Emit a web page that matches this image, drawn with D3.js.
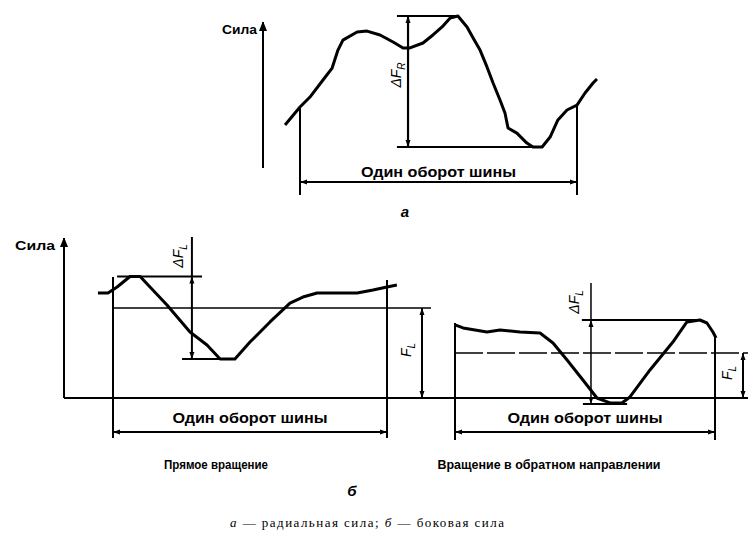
<!DOCTYPE html>
<html>
<head>
<meta charset="utf-8">
<script src="https://cdn.jsdelivr.net/npm/d3@7"></script>
<style>
	body { margin: 0; background: #fff; }
	text { fill: #000; }
</style>
</head>
<body>
<div id="chart"></div>
<script>
// x = share of one tire revolution (0..1 between the extension lines), y = force, arbitrary units

// а - radial force
var radialRev = [-0.054, 0, 0.036, 0.083, 0.116, 0.137, 0.155, 0.206, 0.242, 0.289, 0.336, 0.372, 0.397, 0.444, 0.48, 0.513, 0.542, 0.57, 0.603, 0.625, 0.65, 0.675, 0.697, 0.722, 0.74, 0.751, 0.783, 0.819, 0.841, 0.874, 0.903, 0.931, 0.964, 1, 1.029, 1.058, 1.072];
var radialForce = [33.4, 44.4, 50.5, 60.9, 68.2, 79.2, 85.3, 90.2, 90.8, 88.4, 84.1, 80.5, 80.5, 83.5, 88.4, 93.3, 98.8, 100, 93.3, 86.6, 79.2, 68.9, 59.1, 48.7, 40.8, 31.6, 28.5, 22.4, 20, 20, 26.1, 36.5, 42.6, 45.6, 53, 59.1, 61.5];
var radialMax = 100, radialMin = 20;

// б - lateral force, direct rotation
var directRev = [-0.055, -0.018, 0.015, 0.062, 0.099, 0.135, 0.197, 0.281, 0.343, 0.391, 0.445, 0.5, 0.573, 0.646, 0.693, 0.745, 0.818, 0.891, 0.949, 1, 1.036];
var directForce = [70, 70, 74, 81, 81, 74, 62, 44, 35.3, 26, 26, 37.3, 50.7, 63.3, 67.3, 70, 70, 70, 72, 74, 75.3];
var directMax = 81, directMin = 26, directMean = 60;

// б - lateral force, reverse rotation
var reverseRev = [0, 0.031, 0.123, 0.173, 0.25, 0.327, 0.377, 0.431, 0.492, 0.546, 0.596, 0.642, 0.673, 0.75, 0.838, 0.892, 0.942, 0.969, 0.992, 1.004];
var reverseForce = [48.7, 46.7, 44, 45.3, 44, 43.3, 36.7, 25.3, 12, 0, -3.3, -3.3, 0.7, 18.7, 37.3, 50.7, 52, 50, 44, 40];
var reverseMax = 52, reverseMin = -4, reverseMean = 30;

var axisLabel = 'Сила';
var revLabel = 'Один оборот шины';
var panelNames = ['Прямое вращение', 'Вращение в обратном направлении'];

var width = 748, height = 542;

var svg = d3.select('#chart').append('svg')
	.attr('width', width)
	.attr('height', height);

var defs = svg.append('defs');
defs.append('marker')
	.attr('id', 'dim')
	.attr('markerUnits', 'userSpaceOnUse')
	.attr('markerWidth', 8).attr('markerHeight', 6)
	.attr('refX', 7).attr('refY', 3)
	.attr('orient', 'auto-start-reverse')
	.append('path').attr('d', 'M0,0.5 L7,3 L0,5.5 Z').attr('fill', '#000');
defs.append('marker')
	.attr('id', 'axisArrow')
	.attr('markerUnits', 'userSpaceOnUse')
	.attr('markerWidth', 8).attr('markerHeight', 10)
	.attr('refX', 9).attr('refY', 4)
	.attr('orient', 'auto')
	.append('path').attr('d', 'M0,0 L10,4 L0,8 Z').attr('fill', '#000');

var boldFont = '"Liberation Sans", Arial, sans-serif';

function line(g, x1, y1, x2, y2, w, dash) {
	return g.append('line')
		.attr('x1', x1).attr('y1', y1).attr('x2', x2).attr('y2', y2)
		.attr('stroke', '#000')
		.attr('stroke-width', w)
		.attr('stroke-dasharray', dash || null);
}

function dimension(g, x1, y1, x2, y2, w) {
	return line(g, x1, y1, x2, y2, w)
		.attr('marker-start', 'url(#dim)')
		.attr('marker-end', 'url(#dim)');
}

function rotatedLabel(g, x, y, main, sub) {
	var t = g.append('text')
		.attr('transform', 'translate(' + x + ',' + y + ') rotate(-90)')
		.attr('text-anchor', 'middle')
		.style('font-family', boldFont)
		.style('font-style', 'italic')
		.style('font-size', '14px');
	t.append('tspan').text(main);
	t.append('tspan').attr('dy', 4).style('font-size', '10px').text(sub);
}

function bold(g, x, y, txt, size, len) {
	var t = g.append('text')
		.attr('x', x).attr('y', y)
		.attr('text-anchor', 'middle')
		.style('font-family', boldFont)
		.style('font-weight', 'bold')
		.style('font-size', size + 'px')
		.text(txt);
	if (len) t.attr('textLength', len).attr('lengthAdjust', 'spacingAndGlyphs');
	return t;
}

function curve(g, x, y, rev, force) {
	g.append('path')
		.datum(d3.zip(rev, force))
		.attr('fill', 'none')
		.attr('stroke', '#000')
		.attr('stroke-width', 3)
		.attr('stroke-linejoin', 'round')
		.attr('d', d3.line().x(function(d) { return x(d[0]); }).y(function(d) { return y(d[1]); }));
}

function forceAt(rev, force, r) {
	return force[rev.indexOf(r)];
}

// ---- а ----
var xA = d3.scaleLinear().domain([0, 1]).range([300, 577]);
var yA = d3.scaleLinear().domain([radialMin, radialMax]).range([147, 16]);
var gA = svg.append('g');

line(gA, 263, 168, 263, 22, 2).attr('marker-end', 'url(#axisArrow)');
gA.append('text').attr('x', 257).attr('y', 34).attr('text-anchor', 'end')
	.style('font-family', boldFont).style('font-weight', 'bold').style('font-size', '12px')
	.attr('textLength', 35).attr('lengthAdjust', 'spacingAndGlyphs').text(axisLabel);

line(gA, xA(0.35), yA(radialMax), xA(0.567), yA(radialMax), 2);
line(gA, xA(0.35), yA(radialMin), xA(0.866), yA(radialMin), 2);
dimension(gA, xA(0.39), yA(radialMax), xA(0.39), yA(radialMin), 2.2);
rotatedLabel(gA, 401, 75, 'ΔF', 'R');

line(gA, xA(0), yA(forceAt(radialRev, radialForce, 0)), xA(0), 195, 2);
line(gA, xA(1), yA(forceAt(radialRev, radialForce, 1)), xA(1), 195, 2);
dimension(gA, xA(0), 182, xA(1), 182, 2);
bold(gA, xA(0.5), 177, revLabel, 14, 155);
curve(gA, xA, yA, radialRev, radialForce);

gA.append('text').attr('x', 405).attr('y', 217).attr('text-anchor', 'middle')
	.style('font-family', boldFont).style('font-weight', 'bold').style('font-style', 'italic')
	.style('font-size', '15px').text('а');

// ---- б ----
var yB = d3.scaleLinear().domain([0, 100]).range([398, 248]);
var xL = d3.scaleLinear().domain([0, 1]).range([113, 387]);
var xR = d3.scaleLinear().domain([0, 1]).range([455, 715]);
var gB = svg.append('g');

line(gB, 64, yB(0), 64, 238, 2).attr('marker-end', 'url(#axisArrow)');
line(gB, 64, yB(0), width, yB(0), 2);
gB.append('text').attr('x', 55).attr('y', 250).attr('text-anchor', 'end')
	.style('font-family', boldFont).style('font-weight', 'bold').style('font-size', '12px')
	.attr('textLength', 40).attr('lengthAdjust', 'spacingAndGlyphs').text(axisLabel);

// direct rotation
line(gB, xL(0), 277, xL(0), 438, 2);
line(gB, xL(1), 280, xL(1), 438, 2);
line(gB, xL(0), yB(directMean), 431, yB(directMean), 1.3);
line(gB, xL(0.015), yB(directMax), xL(0.325), yB(directMax), 2);
line(gB, xL(0.252), yB(directMin), xL(0.434), yB(directMin), 2);
line(gB, xL(0.288), 237, xL(0.288), yB(directMax), 2);
dimension(gB, xL(0.288), yB(directMax), xL(0.288), yB(directMin), 2);
rotatedLabel(gB, 183, 256, 'ΔF', 'L');
dimension(gB, 422, yB(directMean), 422, yB(0), 2);
rotatedLabel(gB, 411, 350, 'F', 'L');
dimension(gB, xL(0), 432, xL(1), 432, 2);
bold(gB, xL(0.5), 423, revLabel, 14, 155);
curve(gB, xL, yB, directRev, directForce);

// reverse rotation
line(gB, xR(0), 323, xR(0), 440, 2);
line(gB, xR(1), 335, xR(1), 440, 2);
line(gB, xR(0), yB(reverseMean), width, yB(reverseMean), 1.3, '28,4');
line(gB, xR(0.488), yB(reverseMax), xR(0.942), yB(reverseMax), 2);
line(gB, xR(0.492), yB(reverseMin), xR(0.662), yB(reverseMin), 2);
line(gB, xR(0.523), 283, xR(0.523), yB(reverseMax), 1.5);
dimension(gB, xR(0.523), yB(reverseMax), xR(0.523), yB(reverseMin), 1.5);
rotatedLabel(gB, 579, 302, 'ΔF', 'L');
dimension(gB, 743, yB(reverseMean), 743, yB(0), 2);
rotatedLabel(gB, 732, 373, 'F', 'L');
dimension(gB, xR(0), 432, xR(1), 432, 2);
bold(gB, xR(0.5), 423, revLabel, 14, 155);
curve(gB, xR, yB, reverseRev, reverseForce);

bold(gB, 216, 469, panelNames[0], 12, 104);
bold(gB, 549, 469, panelNames[1], 12, 223);
gB.append('text').attr('x', 352).attr('y', 496).attr('text-anchor', 'middle')
	.style('font-family', boldFont).style('font-weight', 'bold').style('font-style', 'italic')
	.style('font-size', '15px').text('б');

// caption
var cap = svg.append('text').attr('x', 367).attr('y', 527).attr('text-anchor', 'middle')
	.style('font-family', '"Liberation Serif", "DejaVu Serif", serif')
	.style('font-size', '13px')
	.attr('textLength', 274);
cap.append('tspan').style('font-style', 'italic').text('а');
cap.append('tspan').text(' — радиальная сила; ');
cap.append('tspan').style('font-style', 'italic').text('б');
cap.append('tspan').text(' — боковая сила');
</script>
</body>
</html>
